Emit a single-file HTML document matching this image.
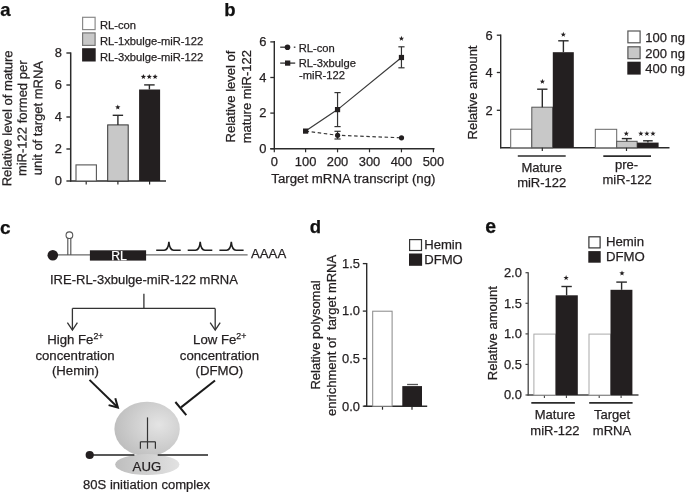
<!DOCTYPE html>
<html><head><meta charset="utf-8"><style>
html,body{margin:0;padding:0;background:#fff;}
svg{display:block;will-change:transform;}
text{font-family:"Liberation Sans",sans-serif;fill:#231f20;stroke:#231f20;stroke-width:0.25px;}
</style></head><body>
<svg width="685" height="492" viewBox="0 0 685 492">
<rect width="685" height="492" fill="#fff"/>
<text x="0.2" y="15.8" font-size="18.5" font-weight="bold" style="fill:#111;stroke:#111">a</text>
<rect x="82.6" y="17.3" width="12.5" height="12.3" fill="#fff" stroke="#8a8a8a" stroke-width="1.2"/>
<rect x="82.6" y="32.9" width="12.5" height="12.5" fill="#c8c8c8" stroke="#777" stroke-width="1.2"/>
<rect x="82.1" y="48.2" width="13.6" height="13.3" fill="#231f20"/>
<text x="100.0" y="28.5" font-size="11.2">RL-con</text>
<text x="100.0" y="44.5" font-size="11.2">RL-1xbulge-miR-122</text>
<text x="100.0" y="60.5" font-size="11.2">RL-3xbulge-miR-122</text>
<line x1="70.7" y1="52.4" x2="70.7" y2="181.6" stroke="#2b2b2b" stroke-width="1.5" />
<line x1="66.4" y1="53" x2="70.7" y2="53" stroke="#2b2b2b" stroke-width="1.4" />
<text x="61.9" y="57.35" font-size="12.9" text-anchor="end">8</text>
<line x1="66.4" y1="85" x2="70.7" y2="85" stroke="#2b2b2b" stroke-width="1.4" />
<text x="61.9" y="89.35" font-size="12.9" text-anchor="end">6</text>
<line x1="66.4" y1="117" x2="70.7" y2="117" stroke="#2b2b2b" stroke-width="1.4" />
<text x="61.9" y="121.35" font-size="12.9" text-anchor="end">4</text>
<line x1="66.4" y1="149" x2="70.7" y2="149" stroke="#2b2b2b" stroke-width="1.4" />
<text x="61.9" y="153.35" font-size="12.9" text-anchor="end">2</text>
<line x1="66.4" y1="181" x2="70.7" y2="181" stroke="#2b2b2b" stroke-width="1.4" />
<text x="61.9" y="185.35" font-size="12.9" text-anchor="end">0</text>
<line x1="70" y1="181" x2="166" y2="181" stroke="#2b2b2b" stroke-width="1.5" />
<line x1="86.2" y1="181" x2="86.2" y2="184.4" stroke="#2b2b2b" stroke-width="1.2" />
<line x1="117.9" y1="181" x2="117.9" y2="184.4" stroke="#2b2b2b" stroke-width="1.2" />
<line x1="149.6" y1="181" x2="149.6" y2="184.4" stroke="#2b2b2b" stroke-width="1.2" />
<rect x="76.0" y="164.9" width="20.4" height="16.1" fill="#fff" stroke="#555" stroke-width="1.1"/>
<rect x="107.7" y="124.9" width="20.5" height="56.1" fill="#c8c8c8" stroke="#333" stroke-width="1.0"/>
<rect x="139.1" y="89.5" width="21.0" height="91.5" fill="#231f20"/>
<line x1="117.9" y1="124.9" x2="117.9" y2="115.3" stroke="#2b2b2b" stroke-width="1.4" />
<line x1="112.7" y1="115.3" x2="123.1" y2="115.3" stroke="#2b2b2b" stroke-width="1.4" />
<line x1="149.4" y1="89.5" x2="149.4" y2="84.9" stroke="#2b2b2b" stroke-width="1.4" />
<line x1="144.15" y1="84.9" x2="154.65" y2="84.9" stroke="#2b2b2b" stroke-width="1.4" />
<polygon points="117.80,104.50 118.48,106.37 120.46,106.43 118.89,107.66 119.45,109.57 117.80,108.45 116.15,109.57 116.71,107.66 115.14,106.43 117.12,106.37" fill="#231f20"/>
<polygon points="143.40,74.00 144.08,75.87 146.06,75.93 144.49,77.16 145.05,79.07 143.40,77.95 141.75,79.07 142.31,77.16 140.74,75.93 142.72,75.87" fill="#231f20"/>
<polygon points="149.25,74.00 149.93,75.87 151.91,75.93 150.34,77.16 150.90,79.07 149.25,77.95 147.60,79.07 148.16,77.16 146.59,75.93 148.57,75.87" fill="#231f20"/>
<polygon points="155.10,74.00 155.78,75.87 157.76,75.93 156.19,77.16 156.75,79.07 155.10,77.95 153.45,79.07 154.01,77.16 152.44,75.93 154.42,75.87" fill="#231f20"/>
<text transform="translate(11.8,118.4) rotate(-89.55)" font-size="13.0" text-anchor="middle">Relative level of mature</text>
<text transform="translate(26.7,118.3) rotate(-89.55)" font-size="13.0" text-anchor="middle">miR-122 formed per</text>
<text transform="translate(42.2,118.1) rotate(-89.55)" font-size="13.0" text-anchor="middle">unit of target mRNA</text>
<text x="224.3" y="15.9" font-size="18.5" font-weight="bold" style="fill:#111;stroke:#111">b</text>
<text transform="translate(234.9,96.5) rotate(-90)" font-size="13.0" text-anchor="middle">Relative level of</text>
<text transform="translate(250.7,96.7) rotate(-90)" font-size="13.0" text-anchor="middle">mature miR-122</text>
<line x1="274.3" y1="41.0" x2="274.3" y2="148.8" stroke="#2b2b2b" stroke-width="1.4" />
<line x1="270.3" y1="41.9" x2="274.3" y2="41.9" stroke="#2b2b2b" stroke-width="1.3" />
<text x="266.4" y="46.25" font-size="12.9" text-anchor="end">6</text>
<line x1="270.3" y1="77.5" x2="274.3" y2="77.5" stroke="#2b2b2b" stroke-width="1.3" />
<text x="266.4" y="81.85" font-size="12.9" text-anchor="end">4</text>
<line x1="270.3" y1="113.1" x2="274.3" y2="113.1" stroke="#2b2b2b" stroke-width="1.3" />
<text x="266.4" y="117.45" font-size="12.9" text-anchor="end">2</text>
<line x1="270.3" y1="148.7" x2="274.3" y2="148.7" stroke="#2b2b2b" stroke-width="1.3" />
<text x="266.4" y="153.05" font-size="12.9" text-anchor="end">0</text>
<line x1="270.3" y1="148.7" x2="434.5" y2="148.7" stroke="#2b2b2b" stroke-width="1.4" />
<line x1="274.3" y1="148.7" x2="274.3" y2="152.3" stroke="#2b2b2b" stroke-width="1.2" />
<text x="274.3" y="165.7" font-size="12.9" text-anchor="middle">0</text>
<line x1="305.6" y1="148.7" x2="305.6" y2="152.3" stroke="#2b2b2b" stroke-width="1.2" />
<text x="305.6" y="165.7" font-size="12.9" text-anchor="middle">100</text>
<line x1="337.55" y1="148.7" x2="337.55" y2="152.3" stroke="#2b2b2b" stroke-width="1.2" />
<text x="337.55" y="165.7" font-size="12.9" text-anchor="middle">200</text>
<line x1="369.5" y1="148.7" x2="369.5" y2="152.3" stroke="#2b2b2b" stroke-width="1.2" />
<text x="369.5" y="165.7" font-size="12.9" text-anchor="middle">300</text>
<line x1="401.45" y1="148.7" x2="401.45" y2="152.3" stroke="#2b2b2b" stroke-width="1.2" />
<text x="401.45" y="165.7" font-size="12.9" text-anchor="middle">400</text>
<line x1="433.4" y1="148.7" x2="433.4" y2="152.3" stroke="#2b2b2b" stroke-width="1.2" />
<text x="433.4" y="165.7" font-size="12.9" text-anchor="middle">500</text>
<text x="353.4" y="183.3" font-size="13.25" text-anchor="middle">Target mRNA transcript (ng)</text>
<polyline points="305.6,131.1 337.6,109.6 401.5,57.5" fill="none" stroke="#3a3a3a" stroke-width="1.2"/>
<polyline points="305.6,131.1 337.6,135.3 401.5,137.8" fill="none" stroke="#3a3a3a" stroke-width="1.2" stroke-dasharray="3.5,2.6"/>
<line x1="337.55" y1="92.6" x2="337.55" y2="126.6" stroke="#333" stroke-width="1.2" />
<line x1="334.45" y1="92.6" x2="340.65" y2="92.6" stroke="#333" stroke-width="1.2" />
<line x1="334.45" y1="126.6" x2="340.65" y2="126.6" stroke="#333" stroke-width="1.2" />
<line x1="401.45" y1="46.8" x2="401.45" y2="67.8" stroke="#333" stroke-width="1.2" />
<line x1="398.35" y1="46.8" x2="404.55" y2="46.8" stroke="#333" stroke-width="1.2" />
<line x1="398.35" y1="67.8" x2="404.55" y2="67.8" stroke="#333" stroke-width="1.2" />
<line x1="337.55" y1="131.3" x2="337.55" y2="139.0" stroke="#333" stroke-width="1.2" />
<line x1="334.45" y1="131.3" x2="340.65" y2="131.3" stroke="#333" stroke-width="1.2" />
<line x1="334.45" y1="139.0" x2="340.65" y2="139.0" stroke="#333" stroke-width="1.2" />
<rect x="303.0" y="128.5" width="5.2" height="5.2" fill="#231f20"/>
<rect x="334.95" y="107.0" width="5.2" height="5.2" fill="#231f20"/>
<rect x="398.85" y="54.9" width="5.2" height="5.2" fill="#231f20"/>
<circle cx="337.6" cy="135.3" r="2.6" fill="#231f20"/>
<circle cx="401.5" cy="137.8" r="2.6" fill="#231f20"/>
<polygon points="401.45,35.80 402.13,37.67 404.11,37.73 402.54,38.96 403.10,40.87 401.45,39.75 399.80,40.87 400.36,38.96 398.79,37.73 400.77,37.67" fill="#231f20"/>
<line x1="280.2" y1="47.2" x2="285" y2="47.2" stroke="#333" stroke-width="1.3" />
<line x1="293.8" y1="47.2" x2="295.4" y2="47.2" stroke="#333" stroke-width="1.3" />
<circle cx="287.5" cy="47.2" r="2.8" fill="#231f20"/>
<line x1="280.2" y1="63.1" x2="295.2" y2="63.1" stroke="#333" stroke-width="1.3" />
<rect x="285" y="60.5" width="5.3" height="5.2" fill="#231f20"/>
<text x="298.7" y="51.9" font-size="11.2">RL-con</text>
<text x="298.7" y="66.6" font-size="11.2">RL-3xbulge</text>
<text x="299.0" y="79.4" font-size="11.2">-miR-122</text>
<text transform="translate(476.9,92.5) rotate(-90)" font-size="13.0" text-anchor="middle">Relative amount</text>
<line x1="500.7" y1="34.6" x2="500.7" y2="148.2" stroke="#2b2b2b" stroke-width="1.4" />
<line x1="496.8" y1="35.2" x2="500.7" y2="35.2" stroke="#2b2b2b" stroke-width="1.3" />
<text x="492.7" y="39.55" font-size="12.9" text-anchor="end">6</text>
<line x1="496.8" y1="72.5" x2="500.7" y2="72.5" stroke="#2b2b2b" stroke-width="1.3" />
<text x="492.7" y="76.85" font-size="12.9" text-anchor="end">4</text>
<line x1="496.8" y1="110.3" x2="500.7" y2="110.3" stroke="#2b2b2b" stroke-width="1.3" />
<text x="492.7" y="114.65" font-size="12.9" text-anchor="end">2</text>
<line x1="500.0" y1="147.8" x2="669.5" y2="147.8" stroke="#2b2b2b" stroke-width="1.4" />
<rect x="510.7" y="129.2" width="21.1" height="18.6" fill="#fff" stroke="#666" stroke-width="1"/>
<rect x="531.8" y="107.2" width="20.8" height="40.6" fill="#c8c8c8" stroke="#555" stroke-width="1"/>
<rect x="552.8" y="52.2" width="21.0" height="95.6" fill="#231f20"/>
<line x1="542.3" y1="107.2" x2="542.3" y2="89.2" stroke="#2b2b2b" stroke-width="1.4" />
<line x1="537.15" y1="89.2" x2="547.45" y2="89.2" stroke="#2b2b2b" stroke-width="1.4" />
<line x1="563.4" y1="52.2" x2="563.4" y2="40.8" stroke="#2b2b2b" stroke-width="1.4" />
<line x1="558.2" y1="40.8" x2="568.6" y2="40.8" stroke="#2b2b2b" stroke-width="1.4" />
<polygon points="542.40,78.80 543.08,80.67 545.06,80.73 543.49,81.96 544.05,83.87 542.40,82.75 540.75,83.87 541.31,81.96 539.74,80.73 541.72,80.67" fill="#231f20"/>
<polygon points="563.30,31.80 563.98,33.67 565.96,33.73 564.39,34.96 564.95,36.87 563.30,35.75 561.65,36.87 562.21,34.96 560.64,33.73 562.62,33.67" fill="#231f20"/>
<rect x="595.3" y="129.3" width="21.4" height="18.5" fill="#fff" stroke="#666" stroke-width="1"/>
<rect x="616.7" y="141.3" width="20.4" height="6.5" fill="#c8c8c8" stroke="#555" stroke-width="1"/>
<rect x="637.1" y="142.6" width="21.5" height="5.2" fill="#231f20"/>
<line x1="626.8" y1="141.3" x2="626.8" y2="138.6" stroke="#2b2b2b" stroke-width="1.4" />
<line x1="621.8" y1="138.6" x2="631.8" y2="138.6" stroke="#2b2b2b" stroke-width="1.4" />
<line x1="647.9" y1="142.6" x2="647.9" y2="140.8" stroke="#2b2b2b" stroke-width="1.4" />
<line x1="643.1" y1="140.8" x2="652.7" y2="140.8" stroke="#2b2b2b" stroke-width="1.4" />
<polygon points="626.30,130.90 626.98,132.77 628.96,132.83 627.39,134.06 627.95,135.97 626.30,134.85 624.65,135.97 625.21,134.06 623.64,132.83 625.62,132.77" fill="#231f20"/>
<polygon points="640.85,130.90 641.53,132.77 643.51,132.83 641.94,134.06 642.50,135.97 640.85,134.85 639.20,135.97 639.76,134.06 638.19,132.83 640.17,132.77" fill="#231f20"/>
<polygon points="646.90,130.90 647.58,132.77 649.56,132.83 647.99,134.06 648.55,135.97 646.90,134.85 645.25,135.97 645.81,134.06 644.24,132.83 646.22,132.77" fill="#231f20"/>
<polygon points="652.95,130.90 653.63,132.77 655.61,132.83 654.04,134.06 654.60,135.97 652.95,134.85 651.30,135.97 651.86,134.06 650.29,132.83 652.27,132.77" fill="#231f20"/>
<line x1="542.3" y1="147.8" x2="542.3" y2="151.0" stroke="#2b2b2b" stroke-width="1.2" />
<line x1="626.5" y1="147.8" x2="626.5" y2="151.0" stroke="#2b2b2b" stroke-width="1.2" />
<line x1="517.8" y1="156.0" x2="565.7" y2="156.0" stroke="#2b2b2b" stroke-width="1.7" />
<line x1="603.3" y1="156.2" x2="651.0" y2="156.2" stroke="#2b2b2b" stroke-width="1.7" />
<text x="541.7" y="171.6" font-size="13.0" text-anchor="middle">Mature</text>
<text x="541.7" y="187.0" font-size="13.0" text-anchor="middle">miR-122</text>
<text x="626.5" y="168.6" font-size="13.0" text-anchor="middle">pre-</text>
<text x="627.1" y="184.1" font-size="13.0" text-anchor="middle">miR-122</text>
<rect x="627.9" y="31.0" width="12.2" height="11.8" fill="#fff" stroke="#555" stroke-width="1.2"/>
<rect x="627.9" y="46.8" width="12.2" height="11.9" fill="#c8c8c8" stroke="#555" stroke-width="1.2"/>
<rect x="627.3" y="61.7" width="13.4" height="12.9" fill="#231f20"/>
<text x="645.3" y="42.2" font-size="13.0">100 ng</text>
<text x="645.3" y="57.9" font-size="13.0">200 ng</text>
<text x="645.3" y="73.3" font-size="13.0">400 ng</text>
<text x="0.0" y="233.6" font-size="19" font-weight="bold" style="fill:#111;stroke:#111">c</text>
<line x1="53" y1="254.9" x2="247.6" y2="254.9" stroke="#6a6a6a" stroke-width="1.3" />
<circle cx="52.8" cy="255.2" r="5.3" fill="#231f20"/>
<line x1="67.8" y1="254.9" x2="67.8" y2="238.8" stroke="#555" stroke-width="1.15" />
<line x1="70.8" y1="254.9" x2="70.8" y2="238.8" stroke="#555" stroke-width="1.15" />
<circle cx="69.4" cy="235.2" r="3.35" fill="#fff" stroke="#555" stroke-width="1.1"/>
<rect x="89.9" y="250.3" width="56.2" height="10.3" fill="#231f20"/>
<text x="119" y="259.7" font-size="12.2" text-anchor="middle" style="fill:#fff;stroke:#fff">RL</text>
<path d="M156.2,250.2 L164.2,250.2 Q168.2,250.2 168.9,241.9 Q169.6,250.2 173.6,250.2 L180.7,250.2" fill="none" stroke="#1e1e1e" stroke-width="1.55"/>
<path d="M187.7,250.2 L195.5,250.2 Q199.5,250.2 200.2,241.9 Q200.9,250.2 204.9,250.2 L212.3,250.2" fill="none" stroke="#1e1e1e" stroke-width="1.55"/>
<path d="M219.4,250.2 L226.6,250.2 Q230.6,250.2 231.3,241.9 Q232.0,250.2 236.0,250.2 L243.6,250.2" fill="none" stroke="#1e1e1e" stroke-width="1.55"/>
<text x="251.0" y="258.3" font-size="13.2">AAAA</text>
<text x="50.0" y="284.3" font-size="13.0">IRE-RL-3xbulge-miR-122 mRNA</text>
<line x1="143.9" y1="293.8" x2="143.9" y2="308.4" stroke="#333" stroke-width="1.3" />
<line x1="72.4" y1="308.4" x2="215.2" y2="308.4" stroke="#333" stroke-width="1.3" />
<line x1="72.4" y1="308.4" x2="72.4" y2="329.8" stroke="#333" stroke-width="1.3" />
<polyline points="67.4,322.6 72.4,330.1 77.4,322.6" fill="none" stroke="#333" stroke-width="1.3"/>
<line x1="215.2" y1="308.4" x2="215.2" y2="329.8" stroke="#333" stroke-width="1.3" />
<polyline points="210.2,322.6 215.2,330.1 220.2,322.6" fill="none" stroke="#333" stroke-width="1.3"/>
<text x="75.3" y="344.0" font-size="13.2" text-anchor="middle">High Fe<tspan font-size="8.8" dy="-5.2">2+</tspan></text>
<text x="75.0" y="359.6" font-size="13.2" text-anchor="middle">concentration</text>
<text x="75.35" y="375.1" font-size="13.2" text-anchor="middle">(Hemin)</text>
<text x="219.7" y="344.0" font-size="13.2" text-anchor="middle">Low Fe<tspan font-size="8.8" dy="-5.2">2+</tspan></text>
<text x="219.45" y="359.6" font-size="13.2" text-anchor="middle">concentration</text>
<text x="219.35" y="375.1" font-size="13.2" text-anchor="middle">(DFMO)</text>
<defs><radialGradient id="rg" cx="0.68" cy="0.42" r="0.78"><stop offset="0" stop-color="#e4e4e4"/><stop offset="1" stop-color="#b9b9b9"/></radialGradient>
<linearGradient id="rg2" x1="0" y1="0" x2="1" y2="0"><stop offset="0" stop-color="#bebebe"/><stop offset="1" stop-color="#e2e2e2"/></linearGradient></defs>
<ellipse cx="147.1" cy="429.0" rx="32.7" ry="27.3" fill="url(#rg)"/>
<ellipse cx="147.3" cy="464.6" rx="32.1" ry="10.5" fill="url(#rg2)"/>
<line x1="89.7" y1="455.0" x2="134.4" y2="455.0" stroke="#222" stroke-width="1.4" />
<line x1="157.7" y1="455.0" x2="208" y2="455.0" stroke="#222" stroke-width="1.4" />
<circle cx="89.7" cy="455.0" r="4.1" fill="#231f20"/>
<line x1="147.5" y1="417.4" x2="147.5" y2="441.8" stroke="#333" stroke-width="1.2" />
<line x1="140.4" y1="441.8" x2="155.4" y2="441.8" stroke="#333" stroke-width="1.2" />
<line x1="140.4" y1="441.8" x2="140.4" y2="448.7" stroke="#333" stroke-width="1.2" />
<line x1="147.5" y1="441.8" x2="147.5" y2="448.7" stroke="#333" stroke-width="1.2" />
<line x1="155.4" y1="441.8" x2="155.4" y2="448.7" stroke="#333" stroke-width="1.2" />
<text x="146.9" y="470.5" font-size="13.2" text-anchor="middle">AUG</text>
<text x="83.1" y="488.6" font-size="13.05">80S initiation complex</text>
<line x1="89.5" y1="379.9" x2="117.6" y2="407.2" stroke="#1a1a1a" stroke-width="2.0" />
<polyline points="108.6,405.1 117.9,407.5 115.3,398.2" fill="none" stroke="#1a1a1a" stroke-width="2.0"/>
<line x1="215" y1="380.5" x2="181" y2="407.4" stroke="#1a1a1a" stroke-width="2.0" />
<line x1="175.4" y1="402" x2="186.3" y2="415.2" stroke="#1a1a1a" stroke-width="2.0" />
<text x="309.8" y="233.1" font-size="18.5" font-weight="bold" style="fill:#111;stroke:#111">d</text>
<rect x="409.6" y="239.6" width="11.9" height="10.9" fill="#fff" stroke="#333" stroke-width="1.2"/>
<rect x="409.0" y="253.5" width="13.1" height="12.3" fill="#231f20"/>
<text x="424.2" y="248.9" font-size="13.1">Hemin</text>
<text x="424.2" y="264.0" font-size="13.1">DFMO</text>
<line x1="366.7" y1="263.0" x2="366.7" y2="406.8" stroke="#2b2b2b" stroke-width="1.4" />
<line x1="362.8" y1="263.6" x2="366.7" y2="263.6" stroke="#2b2b2b" stroke-width="1.3" />
<text x="359.9" y="267.95" font-size="12.9" text-anchor="end">1.5</text>
<line x1="362.8" y1="311.1" x2="366.7" y2="311.1" stroke="#2b2b2b" stroke-width="1.3" />
<text x="359.9" y="315.45" font-size="12.9" text-anchor="end">1.0</text>
<line x1="362.8" y1="358.6" x2="366.7" y2="358.6" stroke="#2b2b2b" stroke-width="1.3" />
<text x="359.9" y="362.95" font-size="12.9" text-anchor="end">0.5</text>
<line x1="362.8" y1="406.2" x2="366.7" y2="406.2" stroke="#2b2b2b" stroke-width="1.3" />
<text x="359.9" y="410.55" font-size="12.9" text-anchor="end">0.0</text>
<line x1="364.1" y1="406.2" x2="427.2" y2="406.2" stroke="#2b2b2b" stroke-width="1.4" />
<line x1="382.5" y1="406.2" x2="382.5" y2="409.7" stroke="#2b2b2b" stroke-width="1.2" />
<line x1="412.0" y1="406.2" x2="412.0" y2="409.7" stroke="#2b2b2b" stroke-width="1.2" />
<rect x="372.7" y="311.2" width="19.4" height="95.0" fill="#fff" stroke="#888" stroke-width="1"/>
<rect x="402.3" y="386.1" width="19.7" height="20.1" fill="#231f20"/>
<line x1="407.1" y1="384.5" x2="418" y2="384.5" stroke="#555" stroke-width="1.3" />
<text transform="translate(319.8,335.0) rotate(-90)" font-size="13.0" text-anchor="middle">Relative polysomal</text>
<text transform="translate(336.0,335.4) rotate(-90)" font-size="13.0" text-anchor="middle">enrichment of&#160; target mRNA</text>
<text x="485.3" y="233.4" font-size="19.5" font-weight="bold" style="fill:#111;stroke:#111">e</text>
<rect x="588.9" y="236.8" width="11.2" height="11.1" fill="#fff" stroke="#333" stroke-width="1.2"/>
<rect x="588.3" y="251.1" width="12.4" height="11.6" fill="#231f20"/>
<text x="606.0" y="245.5" font-size="13.2">Hemin</text>
<text x="606.0" y="260.6" font-size="13.2">DFMO</text>
<text transform="translate(497.0,333.2) rotate(-90)" font-size="13.0" text-anchor="middle">Relative amount</text>
<line x1="528.2" y1="272.2" x2="528.2" y2="395.5" stroke="#444" stroke-width="1.3" />
<line x1="525.5" y1="272.7" x2="528.2" y2="272.7" stroke="#444" stroke-width="1.2" />
<text x="521.8" y="277.05" font-size="12.9" text-anchor="end">2.0</text>
<line x1="525.5" y1="303.3" x2="528.2" y2="303.3" stroke="#444" stroke-width="1.2" />
<text x="521.8" y="307.65" font-size="12.9" text-anchor="end">1.5</text>
<line x1="525.5" y1="333.9" x2="528.2" y2="333.9" stroke="#444" stroke-width="1.2" />
<text x="521.8" y="338.25" font-size="12.9" text-anchor="end">1.0</text>
<line x1="525.5" y1="364.4" x2="528.2" y2="364.4" stroke="#444" stroke-width="1.2" />
<text x="521.8" y="368.75" font-size="12.9" text-anchor="end">0.5</text>
<line x1="525.5" y1="395.0" x2="528.2" y2="395.0" stroke="#444" stroke-width="1.2" />
<text x="521.8" y="399.35" font-size="12.9" text-anchor="end">0.0</text>
<line x1="527.5" y1="395" x2="638.5" y2="395" stroke="#444" stroke-width="1.3" />
<line x1="544.4" y1="395" x2="544.4" y2="397.9" stroke="#444" stroke-width="1.1" />
<line x1="566.4" y1="395" x2="566.4" y2="397.9" stroke="#444" stroke-width="1.1" />
<line x1="599.2" y1="395" x2="599.2" y2="397.9" stroke="#444" stroke-width="1.1" />
<line x1="621.1" y1="395" x2="621.1" y2="397.9" stroke="#444" stroke-width="1.1" />
<rect x="533.9" y="334.1" width="21.7" height="60.9" fill="#fff" stroke="#aaa" stroke-width="1"/>
<rect x="555.6" y="295.3" width="22.2" height="99.7" fill="#231f20"/>
<line x1="566.6" y1="295.3" x2="566.6" y2="286.5" stroke="#2b2b2b" stroke-width="1.4" />
<line x1="561.4" y1="286.5" x2="571.8" y2="286.5" stroke="#2b2b2b" stroke-width="1.4" />
<rect x="589.0" y="334.1" width="21.5" height="60.9" fill="#fff" stroke="#aaa" stroke-width="1"/>
<rect x="610.5" y="289.8" width="21.9" height="105.2" fill="#231f20"/>
<line x1="621.6" y1="289.8" x2="621.6" y2="282.1" stroke="#2b2b2b" stroke-width="1.4" />
<line x1="616.3" y1="282.1" x2="626.9" y2="282.1" stroke="#2b2b2b" stroke-width="1.4" />
<polygon points="566.10,275.10 566.78,276.97 568.76,277.03 567.19,278.26 567.75,280.17 566.10,279.05 564.45,280.17 565.01,278.26 563.44,277.03 565.42,276.97" fill="#231f20"/>
<polygon points="622.00,270.50 622.68,272.37 624.66,272.43 623.09,273.66 623.65,275.57 622.00,274.45 620.35,275.57 620.91,273.66 619.34,272.43 621.32,272.37" fill="#231f20"/>
<line x1="531.3" y1="402.9" x2="574.9" y2="402.9" stroke="#2b2b2b" stroke-width="1.7" />
<line x1="589.2" y1="402.9" x2="632.6" y2="402.9" stroke="#2b2b2b" stroke-width="1.7" />
<text x="555.0" y="419.4" font-size="13.0" text-anchor="middle">Mature</text>
<text x="554.9" y="434.8" font-size="13.0" text-anchor="middle">miR-122</text>
<text x="612.0" y="419.4" font-size="13.0" text-anchor="middle">Target</text>
<text x="612.0" y="434.8" font-size="13.0" text-anchor="middle">mRNA</text>
</svg>
</body></html>
